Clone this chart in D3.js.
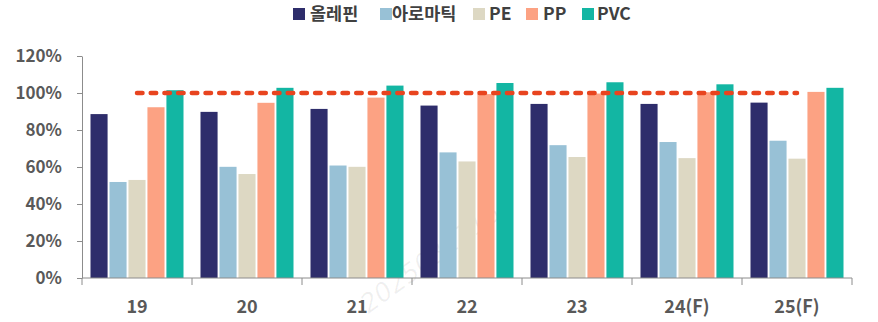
<!DOCTYPE html>
<html>
<head>
<meta charset="utf-8">
<script src="https://cdn.jsdelivr.net/npm/d3@7/dist/d3.min.js"></script>
<style>
  html, body { margin: 0; padding: 0; background: #fff; }
  svg { display: block; font-family: "Noto Sans CJK KR", "Noto Sans", sans-serif; }
</style>
</head>
<body>
<svg id="chart" width="878" height="322"></svg>
<script>
// Capacity utilisation by product group (%), 2019 – 2025 forecast
const years = ["19", "20", "21", "22", "23", "24(F)", "25(F)"];
const seriesNames = ["올레핀", "아로마틱", "PE", "PP", "PVC"];
const olefin   = [88.6, 89.8, 91.4, 93.2, 94.1, 94.1, 94.8];
const aromatic = [51.9, 60.1, 60.8, 67.9, 71.8, 73.5, 74.2];
const pe       = [53.0, 56.2, 60.1, 63.0, 65.4, 64.8, 64.5];
const pp       = [92.3, 94.7, 97.5, 99.4, 99.7, 100.4, 100.6];
const pvc      = [101.5, 102.8, 104.0, 105.4, 105.8, 104.7, 102.8];
const yTicks   = [0, 20, 40, 60, 80, 100, 120];
const referenceLevel = 100;
const watermark = "2025031716";

const colors = ["#2e2d6b", "#98c1d6", "#ddd8c3", "#fca283", "#13b6a3"];
const valuesBySeries = [olefin, aromatic, pe, pp, pvc];

const svg = d3.select("#chart");
const margin = { left: 82, right: 26, top: 56, bottom: 44 };
const W = 878, H = 322;

const x0 = d3.scaleBand().domain(years).range([margin.left, W - margin.right]).paddingInner(0).paddingOuter(0);
const x1 = d3.scaleBand().domain(seriesNames).range([8.5, x0.bandwidth() - 8.5]).paddingInner(0.1).paddingOuter(0);
const y = d3.scaleLinear().domain([0, 120]).range([278, 56]);

// faint document stamp (drawn first, sits behind the bars)
svg.append("text")
  .attr("transform", "translate(430,258) rotate(-36)")
  .attr("text-anchor", "middle")
  .attr("dy", "0.35em")
  .attr("font-size", 26)
  .attr("font-style", "italic")
  .attr("font-family", "'DejaVu Sans', sans-serif")
  .attr("font-weight", 300)
  .attr("fill", "#000")
  .attr("fill-opacity", 0.06)
  .text(watermark);

// bars
const groups = svg.append("g").selectAll("g")
  .data(years)
  .join("g")
  .attr("transform", d => `translate(${x0(d)},0)`);

groups.selectAll("rect")
  .data((yr, i) => seriesNames.map((s, k) => ({ s, k, v: valuesBySeries[k][i] })))
  .join("rect")
  .attr("x", d => x1(d.s))
  .attr("width", x1.bandwidth())
  .attr("y", d => y(d.v))
  .attr("height", d => y(0) - y(d.v))
  .attr("fill", d => colors[d.k]);

// reference line at 100%
svg.append("line")
  .attr("x1", x0(years[0]) + x0.bandwidth() / 2)
  .attr("x2", x0(years[years.length - 1]) + x0.bandwidth() / 2)
  .attr("y1", y(referenceLevel))
  .attr("y2", y(referenceLevel))
  .attr("stroke", "#e8441f")
  .attr("stroke-width", 4.5)
  .attr("stroke-linecap", "round")
  .attr("stroke-dasharray", "5.5 8.2");

// y axis
const yAxis = svg.append("g")
  .attr("transform", `translate(${margin.left},0)`)
  .call(d3.axisLeft(y).tickValues(yTicks).tickFormat(d => d + "%").tickSize(5).tickSizeOuter(0).tickPadding(15));
yAxis.select(".domain").attr("stroke", "#8c8c8c");
yAxis.selectAll(".tick line").attr("stroke", "#8c8c8c");
yAxis.selectAll(".tick text")
  .attr("fill", "#595959")
  .attr("font-size", 17)
  .attr("font-weight", "bold")
  .attr("font-family", "'Noto Sans CJK KR', sans-serif");

// x axis with ticks at category boundaries
const xAxisG = svg.append("g").attr("transform", `translate(0,${y(0)})`);
xAxisG.append("line")
  .attr("x1", margin.left).attr("x2", W - margin.right)
  .attr("stroke", "#8c8c8c");
xAxisG.selectAll("line.tk")
  .data(years.concat(["end"]))
  .join("line")
  .attr("class", "tk")
  .attr("x1", (d, i) => margin.left + i * x0.step())
  .attr("x2", (d, i) => margin.left + i * x0.step())
  .attr("y1", 0).attr("y2", 7)
  .attr("stroke", "#8c8c8c");
xAxisG.selectAll("text")
  .data(years)
  .join("text")
  .attr("x", d => x0(d) + x0.bandwidth() / 2)
  .attr("y", 29)
  .attr("dy", "0.35em")
  .attr("text-anchor", "middle")
  .attr("fill", "#595959")
  .attr("font-size", 18)
  .attr("font-weight", "bold")
  .text(d => d);

// legend
const legendItems = [
  { name: seriesNames[0], sx: 293, tx: 310 },
  { name: seriesNames[1], sx: 380, tx: 392 },
  { name: seriesNames[2], sx: 473, tx: 489 },
  { name: seriesNames[3], sx: 526, tx: 543 },
  { name: seriesNames[4], sx: 582, tx: 597 }
];
const legend = svg.append("g");
legendItems.forEach((it, k) => {
  legend.append("rect")
    .attr("x", it.sx).attr("y", 8)
    .attr("width", 12).attr("height", 12)
    .attr("fill", colors[k]);
  legend.append("text")
    .attr("x", it.tx).attr("y", 14)
    .attr("dy", "0.35em")
    .attr("fill", "#404040")
    .attr("font-size", 17.5)
    .attr("font-weight", "bold")
    .text(it.name);
});
</script>
</body>
</html>
